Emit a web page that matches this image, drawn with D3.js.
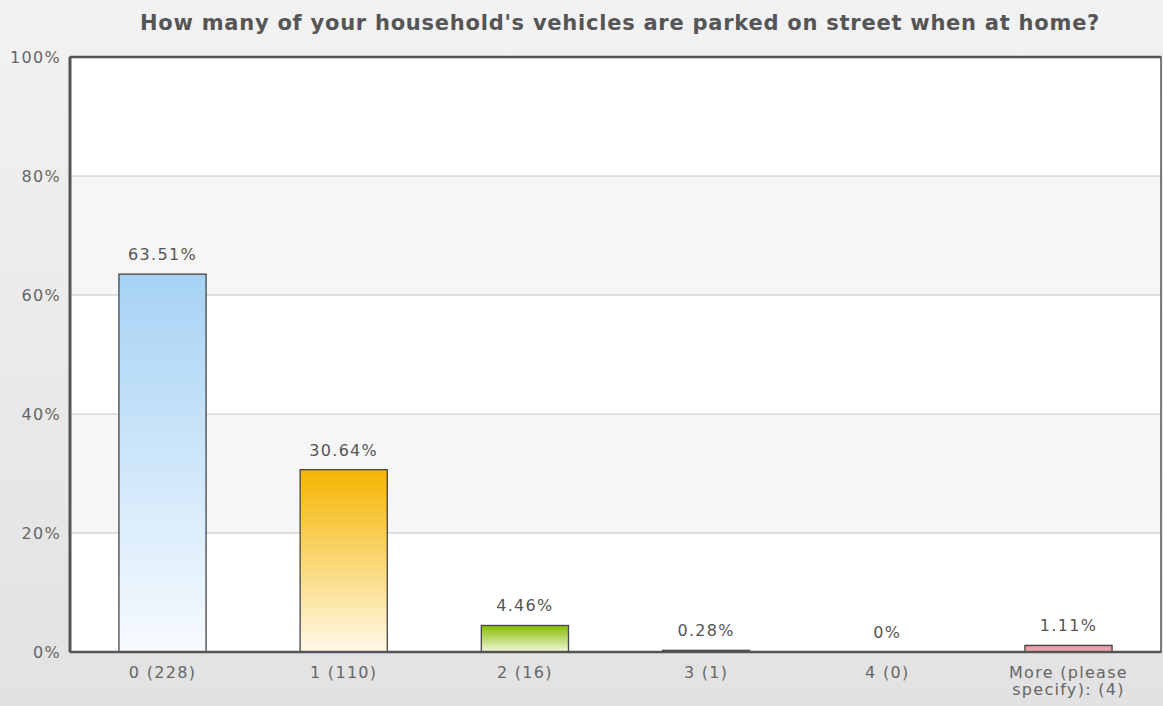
<!DOCTYPE html>
<html>
<head>
<meta charset="utf-8">
<script src="https://cdn.jsdelivr.net/npm/d3@7"></script>
<style>
  body { margin: 0; padding: 0; overflow: hidden; }
  text { font-family: "DejaVu Sans", Verdana, sans-serif; }
</style>
</head>
<body>
<div id="chart"></div>
<script>
// dati
const categories = ["0 (228)", "1 (110)", "2 (16)", "3 (1)", "4 (0)", "More (please\nspecify): (4)"];
const values = [63.51, 30.64, 4.46, 0.28, 0, 1.11];
const valueLabels = ["63.51%", "30.64%", "4.46%", "0.28%", "0%", "1.11%"];
const yTicks = [0, 20, 40, 60, 80, 100];
const title = "How many of your household's vehicles are parked on street when at home?";

// colori delle barre (alto, basso)
const barColors = [
  ["#a6d2f4", "#f7fbff"],
  ["#f5b500", "#fff9e8"],
  ["#86bc00", "#f2f8dc"],
  ["#444444", "#666666"],
  ["#cccccc", "#eeeeee"],
  ["#e88a96", "#f4b8c0"]
];

const W = 1163, H = 706;
const margin = {top: 57, right: 2, bottom: 54, left: 70};
const width = W - margin.left - margin.right;
const height = H - margin.top - margin.bottom;

const svg = d3.select("#chart").append("svg")
  .attr("width", W)
  .attr("height", H);

const defs = svg.append("defs");

// sfondo della pagina
const bg = defs.append("linearGradient").attr("id", "bg")
  .attr("x1", 0).attr("y1", 0).attr("x2", 0).attr("y2", 1);
bg.append("stop").attr("offset", "0%").attr("stop-color", "#f2f2f2");
bg.append("stop").attr("offset", "100%").attr("stop-color", "#e2e2e2");

svg.append("rect").attr("width", W).attr("height", H).attr("fill", "url(#bg)");

barColors.forEach((c, i) => {
  const g = defs.append("linearGradient").attr("id", "bar" + i)
    .attr("x1", 0).attr("y1", 0).attr("x2", 0).attr("y2", 1);
  g.append("stop").attr("offset", "0%").attr("stop-color", c[0]);
  g.append("stop").attr("offset", "100%").attr("stop-color", c[1]);
});

// titolo
svg.append("text")
  .attr("x", 620)
  .attr("y", 30)
  .attr("text-anchor", "middle")
  .attr("font-size", "21px")
  .attr("font-weight", "bold")
  .attr("letter-spacing", "0.75px")
  .attr("fill", "#555")
  .text(title);

const plot = svg.append("g")
  .attr("transform", `translate(${margin.left}, ${margin.top})`);

const x = d3.scaleBand()
  .domain(categories)
  .range([0, width])
  .paddingInner(0.519)
  .paddingOuter(0.27);

const y = d3.scaleLinear()
  .domain([0, 100])
  .range([height, 0]);

// fasce alternate
plot.append("rect").attr("width", width).attr("height", height).attr("fill", "#fff");
for (let i = 0; i < yTicks.length - 1; i++) {
  if (i % 2 == 1) {
    plot.append("rect")
      .attr("x", 0)
      .attr("y", y(yTicks[i + 1]))
      .attr("width", width)
      .attr("height", y(yTicks[i]) - y(yTicks[i + 1]))
      .attr("fill", "#f6f6f6");
  }
}

// griglia
plot.append("g")
  .selectAll("line")
  .data(yTicks.slice(1, -1))
  .join("line")
  .attr("x1", 0).attr("x2", width)
  .attr("y1", d => y(d)).attr("y2", d => y(d))
  .attr("stroke", "#c4c4c4")
  .attr("stroke-width", 1);

// asse y
const yAxis = plot.append("g")
  .call(d3.axisLeft(y).tickValues(yTicks).tickFormat(d => d + "%").tickSize(0).tickPadding(9));
yAxis.select(".domain").remove();
yAxis.selectAll("text")
  .attr("font-size", "16px")
  .attr("letter-spacing", "1.3px")
  .attr("fill", "#666")
  .style("font-family", '"DejaVu Sans", Verdana, sans-serif');

// barre
plot.append("g")
  .selectAll("rect")
  .data(values)
  .join("rect")
  .attr("x", (d, i) => x(categories[i]))
  .attr("y", d => y(d))
  .attr("width", x.bandwidth())
  .attr("height", d => height - y(d))
  .attr("fill", (d, i) => `url(#bar${i})`)
  .attr("stroke", "#444")
  .attr("stroke-width", 1.3)
  .style("display", d => d > 0 ? null : "none");

// etichette valori
plot.append("g")
  .selectAll("text")
  .data(values)
  .join("text")
  .attr("x", (d, i) => x(categories[i]) + x.bandwidth() / 2)
  .attr("y", d => y(d) - 14)
  .attr("text-anchor", "middle")
  .attr("font-size", "16px")
  .attr("letter-spacing", "1.3px")
  .attr("fill", "#555")
  .text((d, i) => valueLabels[i]);

// cornice
plot.append("rect")
  .attr("width", width).attr("height", height)
  .attr("fill", "none")
  .attr("stroke", "#555")
  .attr("stroke-width", 1.5);
plot.append("line")
  .attr("x1", 0).attr("x2", 0).attr("y1", 0).attr("y2", height)
  .attr("stroke", "#555").attr("stroke-width", 3);
plot.append("line")
  .attr("x1", 0).attr("x2", width).attr("y1", height).attr("y2", height)
  .attr("stroke", "#555").attr("stroke-width", 2.5);
plot.append("line")
  .attr("x1", 0).attr("x2", width).attr("y1", 0).attr("y2", 0)
  .attr("stroke", "#555").attr("stroke-width", 2.5);

// etichette categorie
const xl = plot.append("g")
  .selectAll("text")
  .data(categories)
  .join("text")
  .attr("x", d => x(d) + x.bandwidth() / 2)
  .attr("y", height + 26)
  .attr("text-anchor", "middle")
  .attr("font-size", "16px")
  .attr("letter-spacing", "1.3px")
  .attr("fill", "#666");
xl.each(function (d) {
  const lines = d.split("\n");
  const t = d3.select(this);
  lines.forEach((l, j) => {
    t.append("tspan")
      .attr("x", t.attr("x"))
      .attr("dy", j == 0 ? 0 : 17)
      .text(l);
  });
});
</script>
</body>
</html>
